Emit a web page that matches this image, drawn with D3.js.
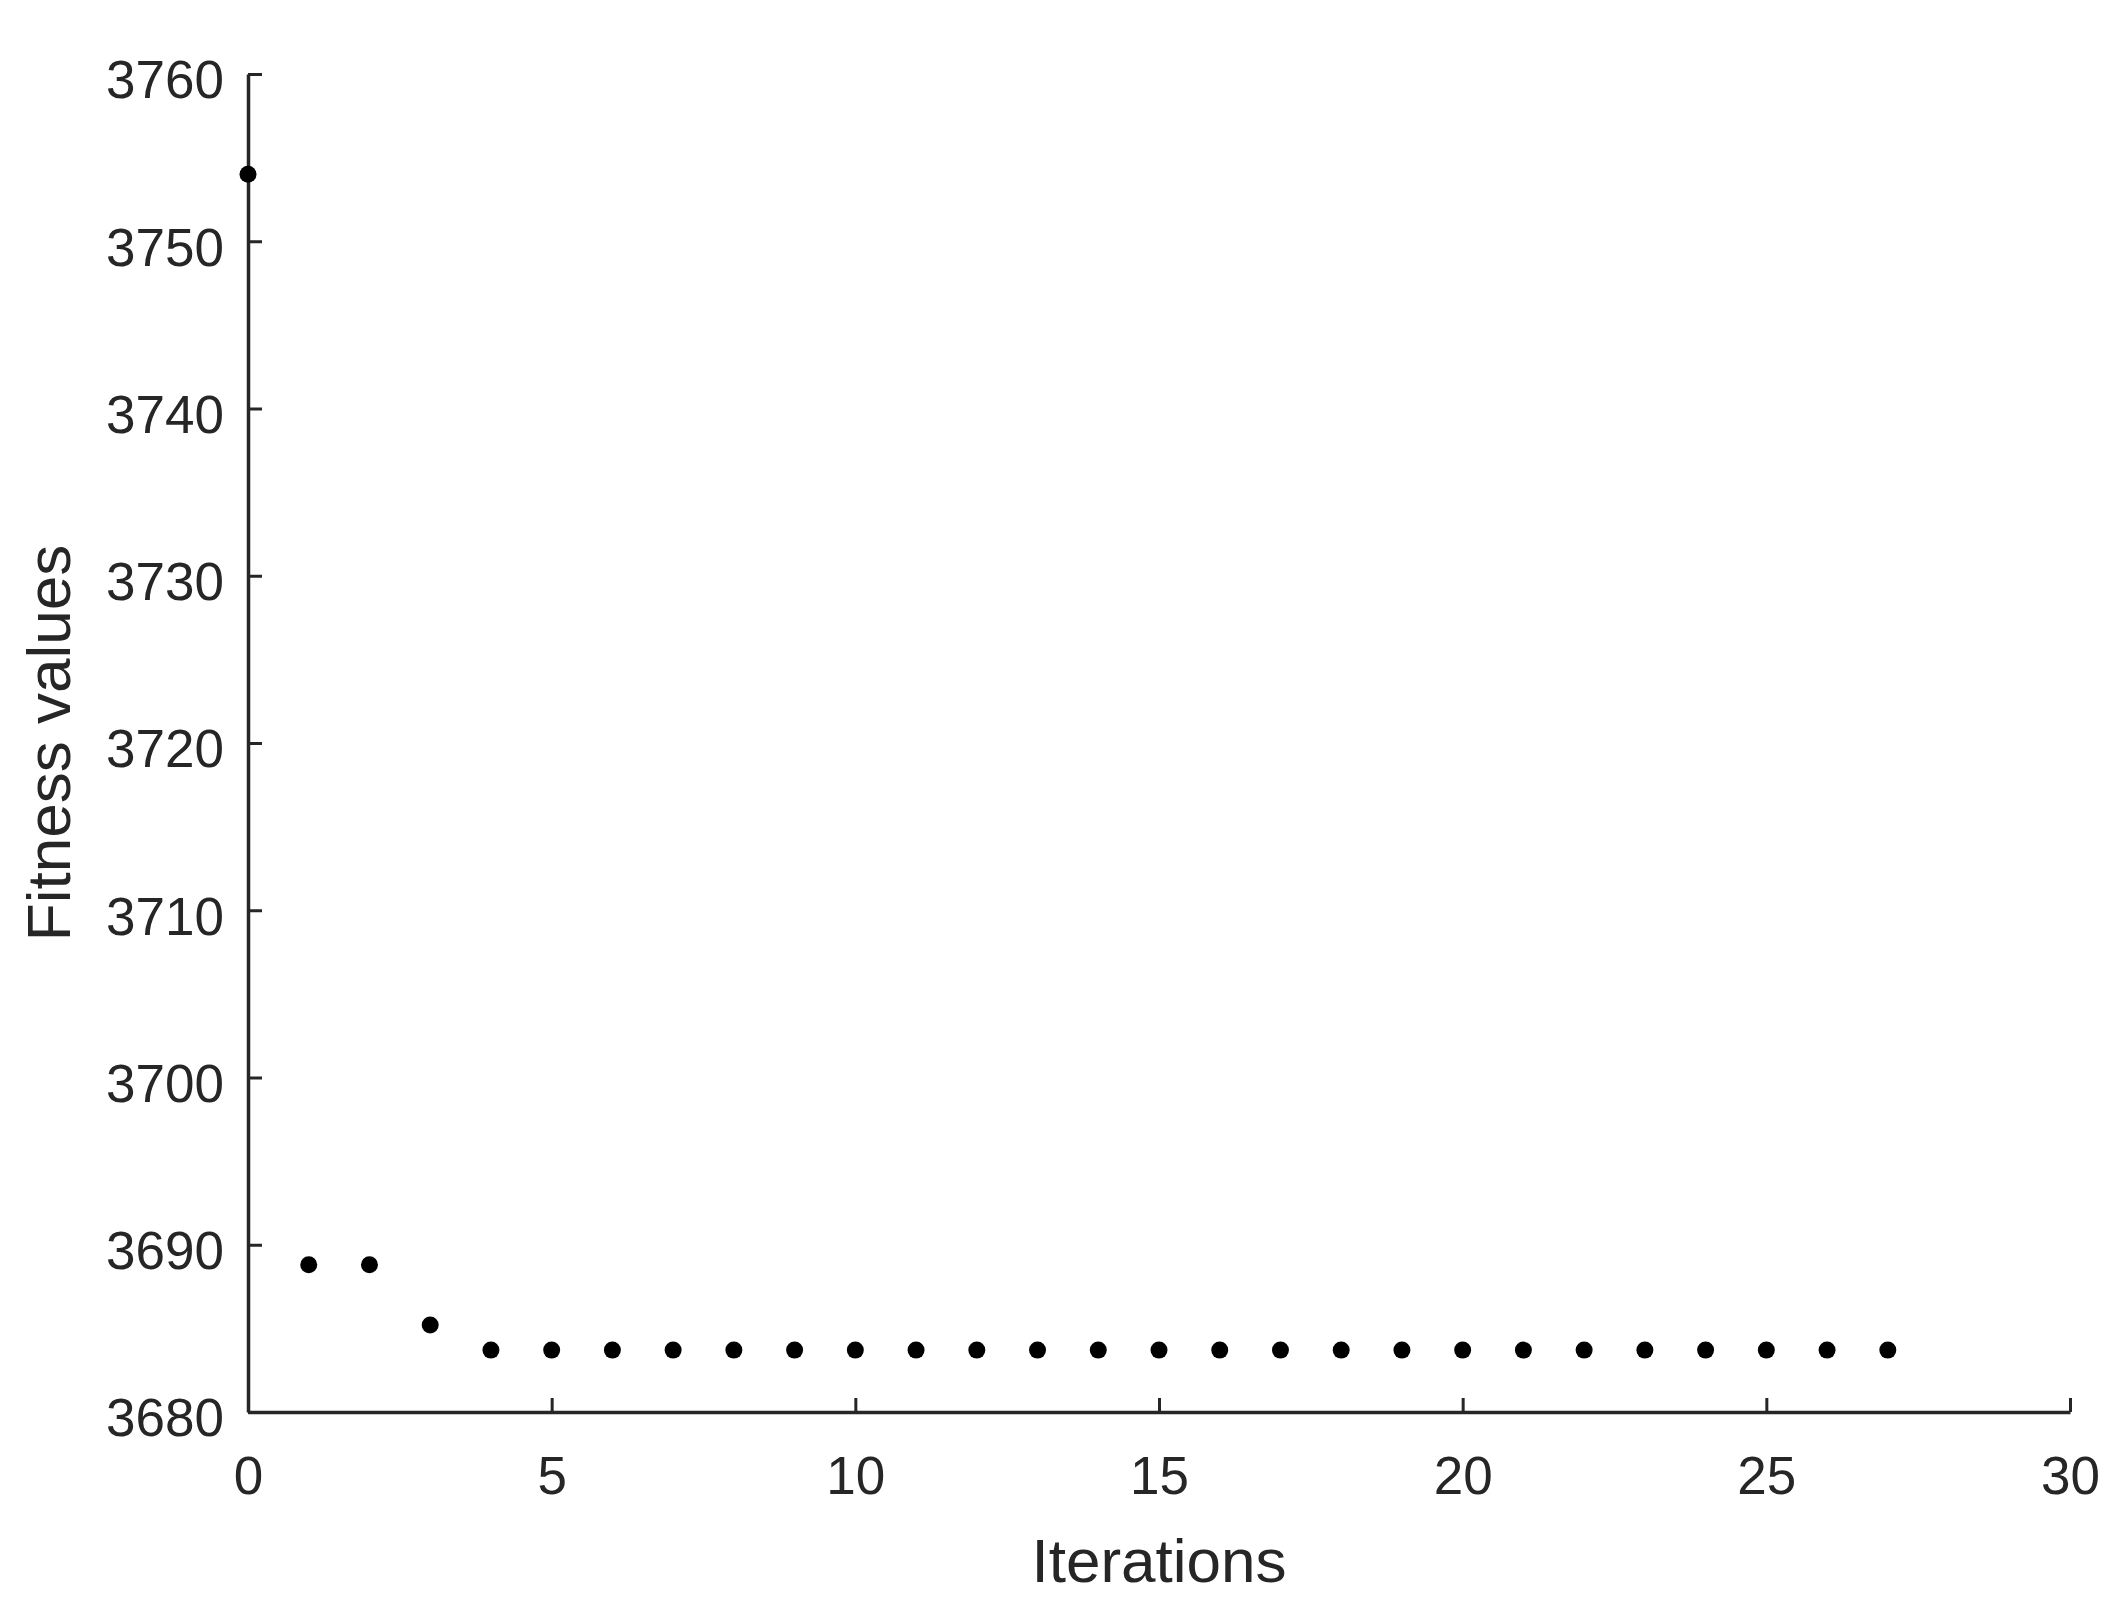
<!DOCTYPE html>
<html>
<head>
<meta charset="utf-8">
<script src="https://cdn.jsdelivr.net/npm/d3@7"></script>
<style>
  body { margin: 0; background: #fff; }
  svg text { font-family: "Liberation Sans", Arial, Helvetica, sans-serif; fill: #262626; }
</style>
</head>
<body>
<div id="chart"></div>
<script>
// iteration index and best fitness value per iteration
const iterations = [0, 1, 2, 3, 4, 5, 6, 7, 8, 9, 10, 11, 12, 13,
    14, 15, 16, 17, 18, 19, 20, 21, 22, 23, 24, 25, 26, 27];
const fitness = [3754.0, 3688.8, 3688.8, 3685.2, 3683.7, 3683.7, 3683.7,
    3683.7, 3683.7, 3683.7, 3683.7, 3683.7, 3683.7, 3683.7,
    3683.7, 3683.7, 3683.7, 3683.7, 3683.7, 3683.7, 3683.7,
    3683.7, 3683.7, 3683.7, 3683.7, 3683.7, 3683.7, 3683.7];
const xTicks = [0, 5, 10, 15, 20, 25, 30];
const yTicks = [3680, 3690, 3700, 3710, 3720, 3730, 3740, 3750, 3760];

const W = 2111, H = 1612;
const margin = {top: 74, right: 41, bottom: 200, left: 248};
const width = W - margin.left - margin.right;
const height = H - margin.top - margin.bottom;

const svg = d3.select("#chart").append("svg")
    .attr("width", W)
    .attr("height", H);

const g = svg.append("g")
    .attr("transform", `translate(${margin.left},${margin.top})`);

const x = d3.scaleLinear().domain([0, 30]).range([0, width]);
const y = d3.scaleLinear().domain([3680, 3760]).range([height, 0]);

// axes, ticks pointing inward like MATLAB
const xAxis = d3.axisBottom(x).tickValues(xTicks).tickFormat(d3.format("d"))
    .tickSize(-14).tickPadding(44).tickSizeOuter(0);
const yAxis = d3.axisLeft(y).tickValues(yTicks).tickFormat(d3.format("d"))
    .tickSize(-14).tickPadding(24).tickSizeOuter(0);

const xg = g.append("g")
    .attr("transform", `translate(0,${height})`)
    .call(xAxis);
const yg = g.append("g").call(yAxis);

[xg, yg].forEach(a => {
    a.select(".domain").attr("stroke", "#262626").attr("stroke-width", 3.5);
    a.selectAll(".tick line").attr("stroke", "#262626").attr("stroke-width", 3);
    a.selectAll(".tick text")
        .style("font-size", "53px")
        .attr("fill", "#262626");
});
xg.selectAll(".tick text").attr("dy", "0.71em");
yg.selectAll(".tick text").attr("dy", "0.45em");

// axis labels
g.append("text")
    .attr("x", width / 2)
    .attr("y", height + 170)
    .attr("text-anchor", "middle")
    .style("font-size", "62px")
    .text("Iterations");

g.append("text")
    .attr("transform", `translate(${70 - margin.left},${height / 2}) rotate(-90)`)
    .attr("text-anchor", "middle")
    .style("font-size", "62px")
    .text("Fitness values");

// points
g.selectAll(".pt")
    .data(iterations.map((d, i) => ({it: d, val: fitness[i]})))
    .join("circle")
    .attr("class", "pt")
    .attr("cx", d => x(d.it))
    .attr("cy", d => y(d.val))
    .attr("r", 8.5)
    .attr("fill", "#000");
</script>
</body>
</html>
